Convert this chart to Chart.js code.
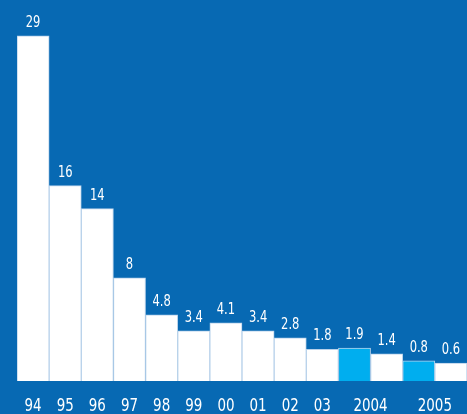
<!DOCTYPE html>
<html>
<head>
<meta charset="utf-8">
<script src="https://cdn.jsdelivr.net/npm/chart.js@4/dist/chart.umd.min.js"></script>
<style>
  html, body { margin: 0; padding: 0; background: #0769b3; }
  #wrap { width: 467px; height: 414px; }
</style>
</head>
<body>
<div id="wrap"><canvas id="myChart"></canvas></div>
<script>
// one entry per bar; 2004 and 2005 have two bars each
let barLabels = ["94", "95", "96", "97", "98", "99", "00", "01", "02", "03", "2004", "2004", "2005", "2005"];
let barValues = [29, 16, 14, 8, 4.8, 3.4, 4.1, 3.4, 2.8, 1.8, 1.9, 1.4, 0.8, 0.6];
let valueLabels = ["29", "16", "14", "8", "4.8", "3.4", "4.1", "3.4", "2.8", "1.8", "1.9", "1.4", "0.8", "0.6"];
let highlighted = [false, false, false, false, false, false, false, false, false, false, true, false, true, false];

let fontFamily = "'DejaVu Sans Condensed', 'Liberation Sans Narrow', 'Liberation Sans', sans-serif";
let yMin = -0.95;

let barColors = highlighted.map(h => (h ? "#00aeef" : "#ffffff"));

// narrow text, the original uses a condensed face
function narrowText(ctx, text, x, y, squeeze) {
  ctx.save();
  ctx.translate(x, y);
  ctx.scale(squeeze, 1);
  ctx.fillText(text, 0, 0);
  ctx.restore();
}

const labelPlugin = {
  id: "labels",
  afterDatasetsDraw(chart) {
    let ctx = chart.ctx;
    let meta = chart.getDatasetMeta(0);
    ctx.save();
    ctx.fillStyle = "#ffffff";
    ctx.textAlign = "center";
    ctx.textBaseline = "alphabetic";
    ctx.font = "16px " + fontFamily;
    for (let i = 0; i < meta.data.length; i++) {
      let bar = meta.data[i];
      narrowText(ctx, valueLabels[i], bar.x, bar.y - 9, 0.8);
    }
    // category labels, centred under each group of bars
    ctx.font = "18px " + fontFamily;
    let groups = [];
    for (let i = 0; i < barLabels.length; i++) {
      let last = groups[groups.length - 1];
      if (last && last.label === barLabels[i]) {
        last.xs.push(meta.data[i].x);
      } else {
        groups.push({ label: barLabels[i], xs: [meta.data[i].x] });
      }
    }
    for (let g of groups) {
      let x = g.xs.reduce((a, b) => a + b, 0) / g.xs.length;
      narrowText(ctx, g.label, x, chart.chartArea.bottom + 30, 0.83);
    }
    ctx.restore();
  },
};

new Chart(document.getElementById("myChart"), {
  type: "bar",
  data: {
    labels: barLabels.map((l, i) => l + "_" + i),
    datasets: [
      {
        data: barValues,
        base: yMin,
        backgroundColor: barColors,
        borderColor: "#b7d1ea",
        borderWidth: 1,
        categoryPercentage: 1,
        barPercentage: 1,
      },
    ],
  },
  options: {
    responsive: true,
    maintainAspectRatio: false,
    animation: false,
    events: [],
    layout: {
      padding: { left: 17, right: 0, top: 0, bottom: 33 },
    },
    scales: {
      x: {
        display: false,
        grid: { display: false },
      },
      y: {
        display: false,
        min: yMin,
        max: 32.1,
        grid: { display: false },
      },
    },
    plugins: {
      legend: { display: false },
      tooltip: { enabled: false },
    },
  },
  plugins: [labelPlugin],
});
</script>
</body>
</html>
